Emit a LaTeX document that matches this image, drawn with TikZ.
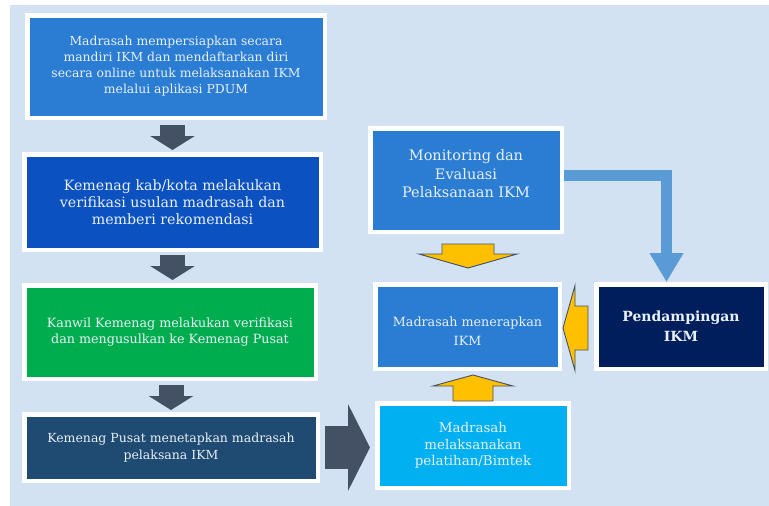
\documentclass[tikz,border=0pt]{standalone}
\usepackage{fontspec}
\setmainfont{DejaVu Serif}
\usetikzlibrary{calc,positioning,arrows.meta,shadows}

\definecolor{bgblue}{RGB}{210,226,243}
\definecolor{midblue}{RGB}{43,125,211}
\definecolor{deepblue}{RGB}{12,81,192}
\definecolor{kanwilgreen}{RGB}{0,173,78}
\definecolor{pusatblue}{RGB}{31,74,114}
\definecolor{navy}{RGB}{0,30,92}
\definecolor{skyblue}{RGB}{0,176,240}
\definecolor{slate}{RGB}{68,80,100}
\definecolor{lineblue}{RGB}{91,155,213}
\definecolor{gold}{RGB}{255,192,0}
\definecolor{txtwhite}{RGB}{232,240,248}

\tikzset{
  box/.style={draw=white,line width=4.5pt,fill=#1,text=txtwhite,align=center,inner sep=0pt,
    drop shadow={shadow xshift=1.5pt,shadow yshift=-1.5pt,fill=black,opacity=0.18}},
  boxtxt/.style={text=txtwhite,align=center,inner sep=0pt},
  darr/.style={draw=slate,line width=25pt,-{Triangle[width=44pt,length=14pt]}},
  bigarr/.style={draw=slate,line width=43pt,-{Triangle[width=86pt,length=22pt]}},
  conn/.style={draw=lineblue,line width=11pt,line join=miter,-{Triangle[width=32pt,length=29pt]}},
  yarr/.style={fill=gold,draw=slate,line width=0.9pt,line join=miter}
}

\begin{document}
\begin{tikzpicture}[x=1pt,y=-1pt]
\useasboundingbox (0,0) rectangle (769,506);
\fill[bgblue] (10,5) rectangle (769,506);

% alur kiri
\node[box=midblue,minimum width=297.5pt,minimum height=102.5pt,font=\fontsize{12.4}{16}\selectfont] (siap) at (176,66.5)
  {Madrasah mempersiapkan secara\\mandiri IKM dan mendaftarkan diri\\secara online untuk melaksanakan IKM\\melalui aplikasi PDUM};
\node[box=deepblue,minimum width=296.5pt,minimum height=95.5pt,font=\fontsize{14.2}{17}\selectfont] (kabkota) at (172.5,202)
  {Kemenag kab/kota melakukan\\verifikasi usulan madrasah dan\\memberi rekomendasi};
\node[box=kanwilgreen,minimum width=291.5pt,minimum height=93.5pt,font=\fontsize{12.7}{16}\selectfont] (kanwil) at (170,332)
  {Kanwil Kemenag melakukan verifikasi\\dan mengusulkan ke Kemenag Pusat};
\node[box=pusatblue,minimum width=293.5pt,minimum height=66.5pt,font=\fontsize{12.5}{17}\selectfont] (pusat) at (171,447.5)
  {Kemenag Pusat menetapkan madrasah\\pelaksana IKM};

% sisi kanan
\node[box=midblue,minimum width=191.5pt,minimum height=103.5pt] (monev) at (466,180) {};
\node[boxtxt,font=\fontsize{14.5}{18.5}\selectfont] (monevtxt) at ([yshift=6pt]monev.center)
  {Monitoring dan\\Evaluasi\\Pelaksanaan IKM};
\node[box=midblue,minimum width=184.5pt,minimum height=84.5pt] (terap) at (467.5,326.5) {};
\node[boxtxt,font=\fontsize{12.7}{19}\selectfont] (teraptxt) at ([yshift=-5pt]terap.center)
  {Madrasah menerapkan\\IKM};
\node[box=navy,minimum width=169.5pt,minimum height=84.5pt,font=\fontsize{14}{20}\selectfont\bfseries] (damping) at (681,326.5)
  {Pendampingan\\IKM};
\node[box=skyblue,minimum width=191.5pt,minimum height=84.5pt,font=\fontsize{13.4}{16.5}\selectfont] (latih) at (473,445.5)
  {Madrasah\\melaksanakan\\pelatihan/Bimtek};

% panah abu-abu
\draw[darr,shorten <=5pt,shorten >=2pt] (kabkota.north |- siap.south) -- (kabkota.north);
\draw[darr,shorten <=3pt,shorten >=3pt] (kabkota.south) -- (kabkota.south |- kanwil.north);
\draw[darr,shorten <=4pt,shorten >=2pt] (pusat.north |- kanwil.south) -- (pusat.north);
\draw[bigarr,shorten <=5pt,shorten >=5pt] (pusat.east) -- (pusat.east -| latih.west);

% monev ke pendampingan
\draw[conn] ([yshift=4.5pt]monev.east) -| ([xshift=-14.5pt]damping.north);

% panah kuning
\coordinate (yd) at ($(monev.south)+(2,10)$);
\filldraw[yarr] ($(yd)+(-26,0)$) -- ++(52,0) -- ++(0,10) -- ++(23,0) -- ($(yd)+(0,24)$)
  -- ($(yd)+(-49,10)$) -- ++(23,0) -- cycle;
\coordinate (yu) at ($(latih.north)+(0,-26)$);
\filldraw[yarr] (yu) -- ++(40,11) -- ++(-20,0) -- ++(0,15) -- ++(-40,0) -- ++(0,-15) -- ++(-20,0) -- cycle;
\coordinate (yl) at ($(terap.east)+(1,1.5)$);
\filldraw[yarr] (yl) -- ++(12,-42.5) -- ++(0,20.5) -- ++(13,0) -- ++(0,44) -- ++(-13,0) -- ++(0,20.5) -- cycle;
\end{tikzpicture}
\end{document}
